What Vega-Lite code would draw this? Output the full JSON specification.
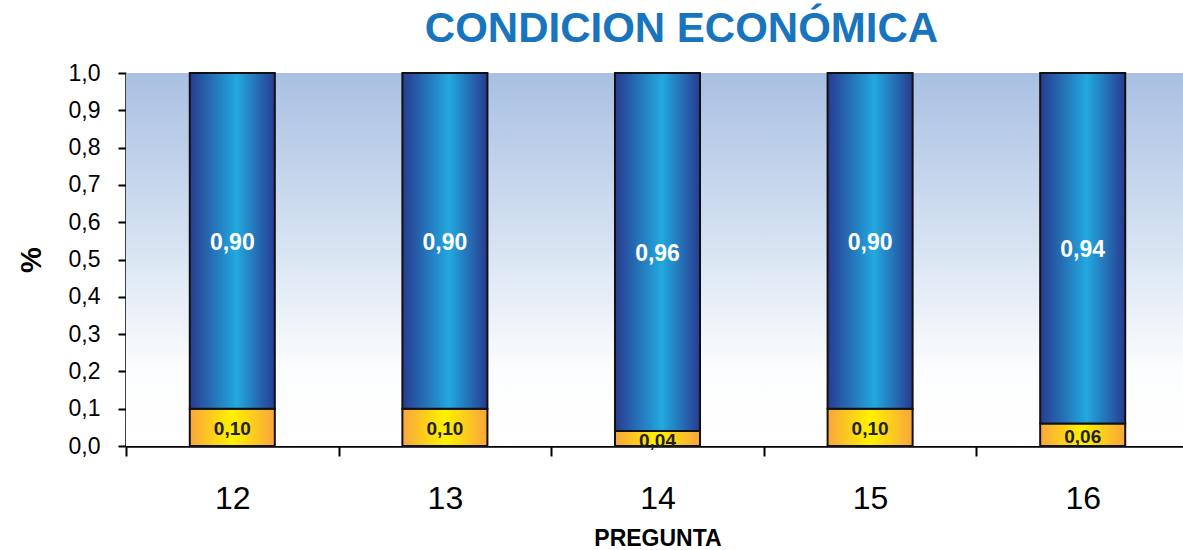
{
  "$schema": "https://vega.github.io/schema/vega-lite/v6.json",
  "autosize": {"type": "none"},
  "width": 1063,
  "height": 373,
  "padding": {"left": 126, "top": 73, "right": 0, "bottom": 104},
  "background": "white",
  "config": {
    "view": {"stroke": null},
    "font": "Liberation Sans",
    "locale": {"number": {"decimal": ",", "thousands": ".", "grouping": [3], "currency": ["", " €"]}}
  },
  "title": {
    "text": "CONDICION ECONÓMICA",
    "font": "Liberation Sans",
    "fontSize": 42,
    "fontWeight": "bold",
    "color": "#1874bc",
    "anchor": "middle",
    "dx": 24,
    "offset": 11
  },
  "data": {
    "values": [
      {"pregunta": "12", "respuesta": "Sí", "valor": 0.10},
      {"pregunta": "12", "respuesta": "No", "valor": 0.90},
      {"pregunta": "13", "respuesta": "Sí", "valor": 0.10},
      {"pregunta": "13", "respuesta": "No", "valor": 0.90},
      {"pregunta": "14", "respuesta": "Sí", "valor": 0.04},
      {"pregunta": "14", "respuesta": "No", "valor": 0.96},
      {"pregunta": "15", "respuesta": "Sí", "valor": 0.10},
      {"pregunta": "15", "respuesta": "No", "valor": 0.90},
      {"pregunta": "16", "respuesta": "Sí", "valor": 0.06},
      {"pregunta": "16", "respuesta": "No", "valor": 0.94}
    ]
  },
  "transform": [
    {"stack": "valor", "groupby": ["pregunta"], "sort": [{"field": "valor", "order": "ascending"}], "as": ["y0", "y1"]},
    {"calculate": "(datum.y0 + datum.y1) / 2", "as": "ymid"}
  ],
  "encoding": {
    "x": {
      "field": "pregunta",
      "type": "nominal",
      "sort": null,
      "scale": {"paddingInner": 0, "paddingOuter": 0},
      "axis": {
        "title": "PREGUNTA",
        "titleFontSize": 23,
        "titleFontWeight": "bold",
        "titleColor": "#000000",
        "titlePadding": 13,
        "labelAngle": 0,
        "labelFontSize": 32,
        "labelColor": "#000000",
        "labelPadding": 27,
        "tickBand": "extent",
        "tickSize": 10,
        "tickWidth": 2,
        "tickColor": "#000000",
        "domainColor": "#000000",
        "domainWidth": 2.5
      }
    }
  },
  "layer": [
    {
      "mark": {
        "type": "rect",
        "fill": {
          "gradient": "linear",
          "x1": 0, "y1": 0, "x2": 0, "y2": 1,
          "stops": [
            {"offset": 0, "color": "#a9c0e2"},
            {"offset": 0.45, "color": "#d6e2f2"},
            {"offset": 0.8, "color": "#fcfdfe"},
            {"offset": 1, "color": "#ffffff"}
          ]
        }
      },
      "encoding": {
        "x": {"value": 0},
        "x2": {"value": 1063},
        "y": {
          "datum": 1,
          "type": "quantitative",
          "scale": {"domain": [0, 1]},
          "axis": {
            "title": "%",
            "titleFontSize": 29,
            "titleFontWeight": "bold",
            "titleColor": "#000000",
            "titlePadding": 22,
            "format": ".1f",
            "tickCount": 10,
            "labelFontSize": 23,
            "labelColor": "#000000",
            "labelPadding": 18,
            "tickSize": 8,
            "tickWidth": 2,
            "tickColor": "#000000",
            "domainColor": "#000000",
            "domainWidth": 2.5,
            "grid": false
          }
        },
        "y2": {"datum": 0}
      }
    },
    {
      "transform": [{"filter": "datum.respuesta === 'Sí'"}],
      "mark": {
        "type": "bar",
        "width": {"band": 0.4},
        "stroke": "#111111",
        "strokeWidth": 2,
        "fill": {
          "gradient": "linear",
          "x1": 0, "y1": 0, "x2": 1, "y2": 0,
          "stops": [
            {"offset": 0, "color": "#f9a53c"},
            {"offset": 0.5, "color": "#fff200"},
            {"offset": 1, "color": "#f9a53c"}
          ]
        }
      },
      "encoding": {
        "y": {"field": "y0", "type": "quantitative"},
        "y2": {"field": "y1"}
      }
    },
    {
      "transform": [{"filter": "datum.respuesta === 'No'"}],
      "mark": {
        "type": "bar",
        "width": {"band": 0.4},
        "stroke": "#111111",
        "strokeWidth": 2,
        "fill": {
          "gradient": "linear",
          "x1": 0, "y1": 0, "x2": 1, "y2": 0,
          "stops": [
            {"offset": 0, "color": "#283b90"},
            {"offset": 0.55, "color": "#22a9df"},
            {"offset": 1, "color": "#283b90"}
          ]
        }
      },
      "encoding": {
        "y": {"field": "y0", "type": "quantitative"},
        "y2": {"field": "y1"}
      }
    },
    {
      "transform": [{"filter": "datum.respuesta === 'No'"}],
      "mark": {"type": "text", "fontSize": 23, "fontWeight": "bold", "color": "#ffffff", "baseline": "middle", "dy": 2},
      "encoding": {
        "y": {"field": "ymid", "type": "quantitative"},
        "text": {"field": "valor", "type": "quantitative", "format": ".2f"}
      }
    },
    {
      "transform": [{"filter": "datum.respuesta === 'Sí'"}],
      "mark": {"type": "text", "fontSize": 19, "fontWeight": "bold", "color": "#222222", "baseline": "middle", "dy": 2},
      "encoding": {
        "y": {"field": "ymid", "type": "quantitative"},
        "text": {"field": "valor", "type": "quantitative", "format": ".2f"}
      }
    }
  ]
}
